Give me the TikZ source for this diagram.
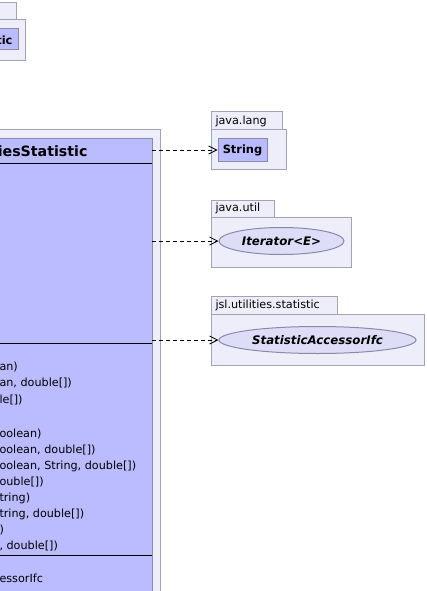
\documentclass[tikz,border=0pt]{standalone}
\usepackage{fontspec}
\setmainfont{DejaVu Sans}
\usetikzlibrary{positioning,shapes.geometric,arrows.meta}

\definecolor{pkgfill}{HTML}{EEEEFA}
\definecolor{pkgline}{HTML}{A3A3B8}
\definecolor{clsfill}{HTML}{BBBBFF}
\definecolor{clsline}{HTML}{8A8AA8}
\definecolor{ifcfill}{HTML}{DDDDF8}

\begin{document}
\begin{tikzpicture}[x=1pt, y=-1pt, line width=1pt,
 font=\fontsize{11.2}{13}\selectfont,
 pkg/.style={draw=pkgline, fill=pkgfill},
 cls/.style={draw=clsline, fill=clsfill},
 member/.style={anchor=west, inner sep=0pt},
 pkgname/.style={anchor=west, inner sep=0pt},
 clsbox/.style={cls, rectangle, inner sep=0pt, font=\fontsize{11.4}{13}\selectfont\bfseries},
 ifcbox/.style={draw=clsline, fill=ifcfill, ellipse, inner sep=0pt,
   font=\fontsize{11.8}{13}\selectfont\bfseries\itshape},
 uses/.style={draw=black, line width=0.8pt, dash pattern=on 4pt off 3pt,
   -{Straight Barb[length=8pt, width=8pt, line width=0.8pt]}}]
 \useasboundingbox (0,0) rectangle (427,591);

 % package at the top left
 \draw[pkg] (-5,3) rectangle (16,20);
 \draw[pkg] (-5,20) rectangle (25,61);
 \draw[cls] (-5,29) rectangle (18,50);
 \node[anchor=east, inner sep=0pt, font=\fontsize{11.4}{13}\selectfont\bfseries] (oldcls) at (13,40) {tic};

 % package of the main class
 \draw[pkg] (-5,129) rectangle (160,600);
 \draw[cls] (-5,138) rectangle (152,600);
 \node[anchor=east, inner sep=0pt, font=\fontsize{14.2}{16}\selectfont\bfseries] (title) at (88,151) {iesStatistic};
 \draw[black] (-5,163) -- (152,163);
 \draw[black] (-5,343) -- (152,343);
 \draw[black] (-5,555) -- (152,555);

 % operations
 \node[member] (op1) at (-1,367) {an)};
 \node[member] (op2) at (-1,383) {an, double[])};
 \node[member] (op3) at (-1,400) {le[])};
 \node[member] (op4) at (-1,434) {oolean)};
 \node[member] (op5) at (-1,450) {oolean, double[])};
 \node[member] (op6) at (-1,466) {oolean, String, double[])};
 \node[member] (op7) at (-1,482) {ouble[])};
 \node[member] (op8) at (-1,498) {tring)};
 \node[member] (op9) at (-1,514) {tring, double[])};
 \node[member] (op10) at (-1,530) {)};
 \node[member] (op11) at (-1,546) {, double[])};
 \node[member] (ifc) at (-1,578) {essorIfc};

 % java.lang
 \draw[pkg] (211,112) rectangle (282,129);
 \draw[pkg] (211,129) rectangle (286,169);
 \node[pkgname] (lang) at (215,121) {java.lang};
 \node[clsbox, minimum width=49pt, minimum height=23pt] (string) at (242.5,150) {String};

 % java.util
 \draw[pkg] (211,200) rectangle (274,217);
 \draw[pkg] (211,217) rectangle (351,267);
 \node[pkgname] (util) at (215,208.5) {java.util};
 \node[ifcbox, minimum width=125pt, minimum height=27pt] (iterator) at (281.5,241) {Iterator<E>};

 % jsl.utilities.statistic
 \draw[pkg] (211,296) rectangle (337,314);
 \draw[pkg] (211,314) rectangle (424,365);
 \node[pkgname] (stat) at (215,305) {jsl.utilities.statistic};
 \node[ifcbox, minimum width=197pt, minimum height=27pt] (accessor) at (317.5,340) {StatisticAccessorIfc};

 % dependencies
 \coordinate (dep1) at (152,150);
 \coordinate (dep2) at (152,241);
 \coordinate (dep3) at (152,340);
 \path[uses] (dep1) -- (string.west);
 \path[uses] (dep2) -- (iterator.west);
 \path[uses] (dep3) -- (accessor.west);
\end{tikzpicture}
\end{document}
